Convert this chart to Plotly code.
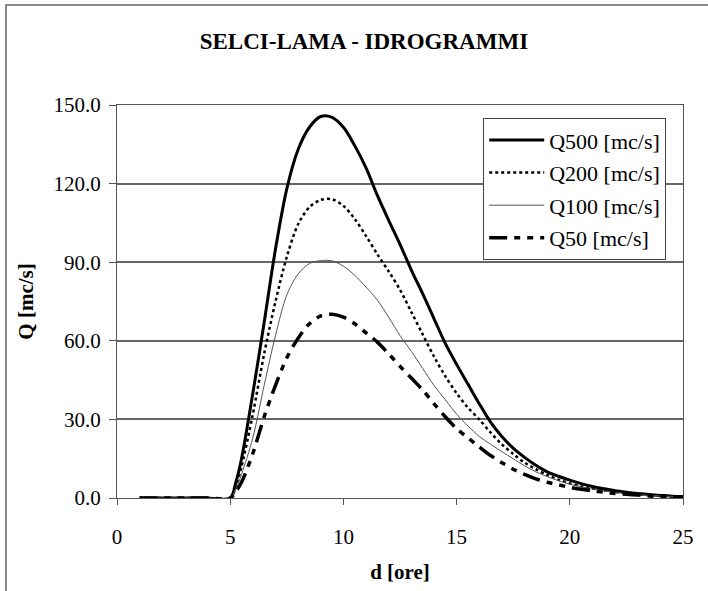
import plotly.graph_objects as go

# ---- data ----
ore = [1, 2, 3, 4, 5, 5.25, 5.5, 6, 6.5, 7, 7.5, 8, 8.5, 9, 9.5, 10, 10.5, 11, 11.5, 12, 12.5,
       13, 13.5, 14, 14.5, 15, 15.5, 16, 16.5, 17, 17.5, 18, 18.5, 19, 19.5, 20, 20.5,
       21, 21.5, 22, 22.5, 23, 23.5, 24, 24.5, 25]

q500 = [0, 0, 0, 0, 0, 6, 15, 40, 67, 95, 118, 133, 141.5, 145.6, 145.3, 141.5, 134.5, 126, 115.5, 106, 96.8,
        87, 78, 68.5, 59, 51, 43.5, 36, 29, 23.5, 19, 15.5, 12.5, 10, 8.3, 6.8, 5.5,
        4.4, 3.5, 2.8, 2.2, 1.7, 1.3, 1.0, 0.7, 0.5]

q200 = [0, 0, 0, 0, 0, 4.5, 12, 32, 55, 75, 92, 104.5, 111, 113.8, 114, 111.5, 106.5, 100, 93, 86.5, 79.5,
        71, 62.5, 54, 46.5, 40, 34.5, 30, 25, 20.5, 16.8, 13.5, 11, 8.8, 7, 5.6, 4.5,
        3.6, 2.9, 2.3, 1.8, 1.4, 1.1, 0.8, 0.6, 0.45]

q100 = [0, 0, 0, 0, 0, 3.5, 9, 23, 43, 62, 77.5, 85.5, 89.5, 90.6, 90.5, 88.5, 85, 80.5, 75.5, 69, 62,
        56, 49.5, 43, 37.5, 32, 27.5, 23.5, 20.5, 17.7, 15, 12.3, 10, 8.2, 6.6, 5.3, 4.3,
        3.4, 2.7, 2.1, 1.7, 1.3, 1.0, 0.8, 0.6, 0.4]

q50 = [0, 0, 0, 0, 0, 2.5, 6, 17, 31, 43, 53.5, 61, 66.5, 69.5, 70.1, 69, 66.5, 63, 59.5, 55, 50.3,
       45.8, 41.2, 36, 31, 26.5, 23, 19.5, 16.2, 13.5, 11, 9, 7.3, 6, 5, 4.1, 3.3,
       2.7, 2.2, 1.7, 1.4, 1.1, 0.8, 0.6, 0.45, 0.35]

series_names = ["Q500 [mc/s]", "Q200 [mc/s]", "Q100 [mc/s]", "Q50 [mc/s]"]
y_ticks = [0, 30, 60, 90, 120, 150]
x_ticks = [0, 5, 10, 15, 20, 25]

FONT = "Liberation Serif"

styles = [
    dict(color="black", width=3, dash="solid"),
    dict(color="black", width=2.5, dash="dot"),
    dict(color="#555555", width=1, dash="solid"),
    dict(color="black", width=3.5, dash="18px,7px,6px,7px,6px,7px"),
]

fig = go.Figure()
for i, (name, vals) in enumerate(zip(series_names, [q500, q200, q100, q50])):
    fig.add_trace(go.Scatter(
        x=ore, y=vals, name=name, mode="lines",
        line=dict(shape="spline", smoothing=0.9, **styles[i]),
        legendgroup=str(i),
    ))

fig.update_layout(
    width=708, height=591,
    margin=dict(l=117, r=25, t=105, b=93),
    paper_bgcolor="white", plot_bgcolor="white",
    font=dict(family=FONT, size=21, color="black"),
    title=dict(text="<b>SELCI-LAMA - IDROGRAMMI</b>", x=0.514, xanchor="center",
               y=0.931, yanchor="middle", font=dict(family=FONT, size=23, color="black")),
    showlegend=True,
    legend=dict(x=(483 - 117) / 566, y=(498 - 118) / 393, xanchor="left", yanchor="top",
                bgcolor="white", bordercolor="#444444", borderwidth=1.2,
                font=dict(family=FONT, size=22), tracegroupgap=1,
                itemwidth=55),
    shapes=[dict(type="rect", xref="paper", yref="paper",
                 x0=(6 - 117) / 566, x1=1.2, y0=-0.4, y1=(498 - 5) / 393,
                 line=dict(color="#666666", width=1.5), layer="below")],
)

fig.update_xaxes(
    range=[0, 25], tickvals=x_ticks, ticks="outside", ticklen=6, tickwidth=1.2,
    tickcolor="#555555", showline=True, linecolor="#555555", linewidth=1.2, mirror=True,
    showgrid=False, zeroline=False, ticklabelstandoff=14,
    title=dict(text="<b>d [ore]</b>", standoff=16, font=dict(family=FONT, size=21)),
)
fig.update_yaxes(
    range=[0, 150], tickvals=y_ticks, tickformat=".1f", ticks="outside", ticklen=7,
    tickwidth=1.2, tickcolor="#555555", showline=True, linecolor="#555555", linewidth=1.2,
    mirror=True, showgrid=True, gridcolor="#666666", gridwidth=1.5, zeroline=False,
    ticklabelstandoff=4,
    title=dict(text="<b>Q [mc/s]</b>", standoff=14, font=dict(family=FONT, size=21)),
)

fig.write_html("out.html", config={"displayModeBar": False},
               post_script="document.body.style.margin='0';")
